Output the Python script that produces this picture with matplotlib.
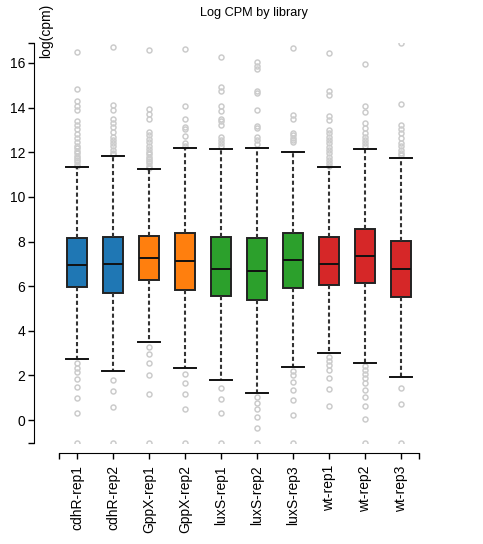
import matplotlib
matplotlib.use('Agg')
import matplotlib.pyplot as plt

plt.rcParams['font.family'] = ['Liberation Sans', 'DejaVu Sans']

# 各文库的 log(cpm) 箱线统计
libraries = ['cdhR-rep1', 'cdhR-rep2', 'GppX-rep1', 'GppX-rep2', 'luxS-rep1',
             'luxS-rep2', 'luxS-rep3', 'wt-rep1', 'wt-rep2', 'wt-rep3']
colors = ['#1f77b4', '#1f77b4', '#ff7f0e', '#ff7f0e', '#2ca02c',
          '#2ca02c', '#2ca02c', '#d62728', '#d62728', '#d62728']
q1 = [5.97, 5.70, 6.26, 5.84, 5.57, 5.36, 5.93, 6.05, 6.12, 5.51]
median = [6.97, 6.99, 7.25, 7.13, 6.78, 6.70, 7.17, 7.00, 7.36, 6.79]
q3 = [8.14, 8.18, 8.25, 8.39, 8.20, 8.15, 8.36, 8.18, 8.58, 8.03]
whisker_lo = [2.72, 2.18, 3.49, 2.33, 1.78, 1.21, 2.40, 3.00, 2.55, 1.93]
whisker_hi = [11.32, 11.84, 11.24, 12.18, 12.14, 12.20, 11.99, 11.34, 12.15, 11.76]

upper_outliers = [
    [16.51, 14.85, 14.30, 14.09, 13.90, 13.38, 13.20, 13.02, 12.82, 12.63, 12.45,
     12.30, 12.18, 12.05, 11.96, 11.85, 11.75, 11.65, 11.55, 11.45, 11.40],
    [16.73, 14.12, 13.90, 13.48, 13.30, 13.11, 12.90, 12.70, 12.55, 12.40, 12.26,
     12.10, 11.96, 11.90],
    [16.58, 13.94, 13.70, 13.49, 12.90, 12.75, 12.60, 12.45, 12.30, 12.15, 12.00,
     11.90, 11.80, 11.70, 11.60, 11.50, 11.40, 11.30],
    [16.61, 14.05, 13.48, 13.15, 13.05, 12.73, 12.40, 12.30],
    [16.26, 14.91, 14.76, 14.05, 13.85, 13.48, 13.38, 13.20, 12.70, 12.55, 12.40, 12.26],
    [16.03, 15.88, 15.73, 14.76, 14.64, 13.90, 13.18, 13.08, 12.70, 12.55, 12.36],
    [16.69, 13.67, 13.49, 12.88, 12.78, 12.63, 12.55, 12.48],
    [16.46, 14.75, 14.57, 13.63, 13.45, 13.00, 12.85, 12.70, 12.55, 12.40, 12.25,
     12.10, 11.95, 11.80, 11.65, 11.50, 11.40],
    [15.94, 14.05, 13.79, 13.30, 13.08, 12.85, 12.70, 12.55, 12.40, 12.30],
    [16.88, 14.15, 13.20, 13.05, 12.88, 12.63, 12.40, 12.26, 12.10, 11.96, 11.86],
]
lower_outliers = [
    [2.54, 2.34, 2.14, 1.84, 1.49, 1.00, 0.33, -1.02],
    [1.79, 1.31, 0.58, -1.02],
    [3.26, 2.94, 2.57, 2.03, 1.18, -1.02],
    [2.05, 1.67, 1.19, 0.48, -1.02],
    [1.42, 0.94, 0.30, -1.02],
    [1.02, 0.78, 0.48, 0.13, -0.34, -1.02],
    [2.21, 2.00, 1.69, 1.34, 0.90, 0.24, -1.02],
    [2.81, 2.66, 2.46, 2.24, 1.87, 1.39, 0.64],
    [2.42, 2.24, 2.05, 1.87, 1.67, 1.37, 1.04, 0.63, 0.03, -1.02],
    [1.45, 0.70, -1.02],
]
y_ticks = [0, 2, 4, 6, 8, 10, 12, 14, 16]
y_min, y_max = -1.04, 16.88

W, H = 483, 544
fig = plt.figure(figsize=(W / 100, H / 100), dpi=100)
ax = fig.add_axes([59.3 / W, 1 - 443.3 / H, 360 / W, 400 / H])

stats = []
for i, lib in enumerate(libraries):
    stats.append({'label': lib, 'q1': q1[i], 'med': median[i], 'q3': q3[i],
                  'whislo': whisker_lo[i], 'whishi': whisker_hi[i],
                  'fliers': upper_outliers[i] + lower_outliers[i]})

bp = ax.bxp(stats, positions=range(len(libraries)), widths=0.56, capwidths=0.61,
            patch_artist=True,
            boxprops=dict(edgecolor='#222222', linewidth=1.4),
            medianprops=dict(color='#111111', linewidth=1.4),
            whiskerprops=dict(color='#333333', linewidth=1.5, linestyle=(0, (2, 1.3))),
            capprops=dict(color='#111111', linewidth=1.4),
            flierprops=dict(marker='o', markersize=3.6, markerfacecolor='none',
                            markeredgecolor='#cccccc', markeredgewidth=1.1))
for patch, c in zip(bp['boxes'], colors):
    patch.set_facecolor(c)
for f in bp['fliers']:
    f.set_zorder(1)

ax.set_xlim(-0.5, len(libraries) - 0.5)
ax.set_ylim(y_min, y_max)
ax.set_yticks(y_ticks)
ax.set_yticks([y_min, y_max], minor=True)
ax.set_xticks([-0.5, len(libraries) - 0.5], minor=True)

for s in ['top', 'right']:
    ax.spines[s].set_visible(False)
ax.spines['left'].set_position(('outward', 18))
ax.spines['bottom'].set_position(('outward', 7.2))
ax.tick_params(axis='both', which='both', length=4.3, width=1, labelsize=10)
ax.tick_params(axis='y', pad=2.2)
ax.tick_params(axis='x', pad=4.3, labelrotation=90)

ax.set_xticks(range(len(libraries)))
ax.set_xticklabels(libraries)
for t in ax.get_xticklabels():
    t.set_rotation(90)
    t.set_verticalalignment('top')
    t.set_horizontalalignment('center')

fig.text(254 / W, 1 - 13 / H, 'Log CPM by library', ha='center', va='center', fontsize=9.2)
fig.text(46.5 / W, 1 - 3.3 / H, 'log(cpm)', rotation=90, ha='center', va='top', fontsize=10)

fig.savefig('out.png', dpi=100)
